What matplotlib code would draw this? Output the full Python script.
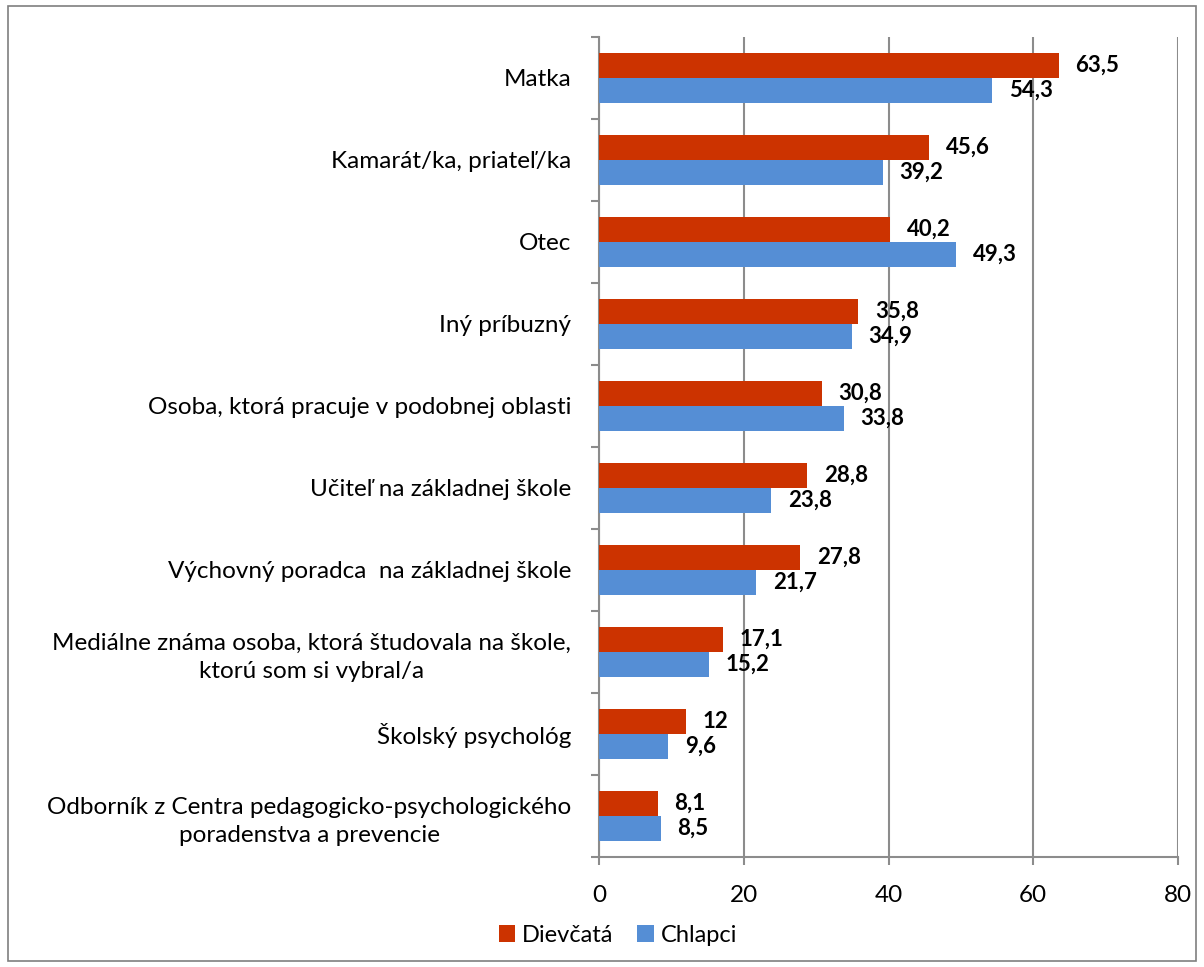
import numpy as np
import matplotlib
matplotlib.use("Agg")
import matplotlib.pyplot as plt
from matplotlib.patches import Rectangle

categories = [
    "Matka",
    "Kamarát/ka, priateľ/ka",
    "Otec",
    "Iný príbuzný",
    "Osoba, ktorá pracuje v podobnej oblasti",
    "Učiteľ na základnej škole",
    "Výchovný poradca  na základnej škole",
    "Mediálne známa osoba, ktorá študovala na škole,\nktorú som si vybral/a",
    "Školský psychológ",
    "Odborník z Centra pedagogicko-psychologického\nporadenstva a prevencie",
]
dievcata = [63.5, 45.6, 40.2, 35.8, 30.8, 28.8, 27.8, 17.1, 12, 8.1]
chlapci = [54.3, 39.2, 49.3, 34.9, 33.8, 23.8, 21.7, 15.2, 9.6, 8.5]
x_ticks = [0, 20, 40, 60, 80]

RED = "#CC3300"
BLUE = "#558ED5"
GRID = "#8C8C8C"

plt.rcParams["font.family"] = ["Lato", "DejaVu Sans"]

fig = plt.figure(figsize=(12.04, 9.67), dpi=100)
ax = fig.add_axes([599 / 1204, 1 - 857 / 967, 579 / 1204, 820 / 967])

n = len(categories)
y = np.arange(n)[::-1].astype(float)
h = 0.305

ax.barh(y + h / 2, dievcata, height=h, color=RED, label="Dievčatá", zorder=3)
ax.barh(y - h / 2, chlapci, height=h, color=BLUE, label="Chlapci", zorder=3)


def fmt(v):
    s = f"{v:.1f}".replace(".", ",")
    return s[:-2] if s.endswith(",0") else s


for yi, d, c in zip(y, dievcata, chlapci):
    ax.annotate(fmt(d), (d, yi + h / 2), xytext=(12, 0), textcoords="offset points",
                va="center", ha="left", fontsize=16, fontweight="bold")
    ax.annotate(fmt(c), (c, yi - h / 2), xytext=(12, 0), textcoords="offset points",
                va="center", ha="left", fontsize=16, fontweight="bold")

ax.set_xlim(0, 80)
ax.set_ylim(-0.5, n - 0.5)
ax.set_xticks(x_ticks)
ax.set_xticklabels([str(t) for t in x_ticks], fontsize=17.5)
ax.xaxis.grid(True, color=GRID, linewidth=1.5, zorder=0)

ax.set_yticks(y)
ax.set_yticklabels(categories, fontsize=17.5, ha="right", multialignment="center",
                   linespacing=1.4)
ax.tick_params(axis="y", length=0, pad=20)
ax.set_yticks(np.arange(n + 1) - 0.5, minor=True)
ax.tick_params(axis="y", which="minor", length=6, color=GRID, width=1.5)
ax.tick_params(axis="x", length=6, color=GRID, width=1.5, pad=14)

for side in ["top", "right"]:
    ax.spines[side].set_visible(False)
for side in ["left", "bottom"]:
    ax.spines[side].set_color(GRID)
    ax.spines[side].set_linewidth(1.5)

fig.legend(loc="center", bbox_to_anchor=(618 / 1204, 1 - 935 / 967), ncol=2,
           frameon=False, fontsize=17, handlelength=0.7, handleheight=0.7,
           handletextpad=0.3, columnspacing=1.0)

fig.patches.append(Rectangle((8 / 1204, 6 / 967), 1188 / 1204, 955 / 967,
                             transform=fig.transFigure, fill=False,
                             edgecolor="#7F7F7F", linewidth=1.2))

fig.savefig("out.png", dpi=100)
